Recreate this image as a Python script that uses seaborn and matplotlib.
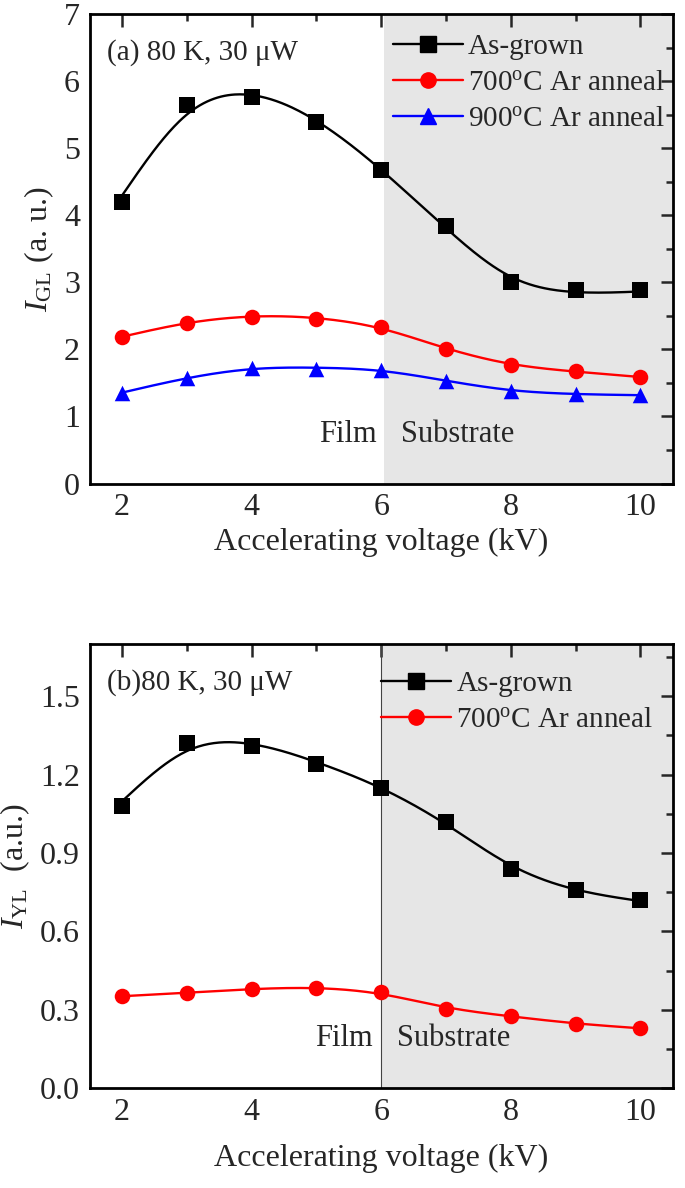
import numpy as np
import pandas as pd
import matplotlib
matplotlib.use("Agg")
import matplotlib.pyplot as plt
from matplotlib.lines import Line2D
from matplotlib.ticker import MultipleLocator
import seaborn as sns

# data
voltage = [2, 3, 4, 5, 6, 7, 8, 9, 10]

gl_as_grown = [4.20, 5.65, 5.77, 5.40, 4.68, 3.84, 3.00, 2.88, 2.88]
gl_700 = [2.18, 2.40, 2.49, 2.46, 2.34, 2.00, 1.77, 1.68, 1.59]
gl_900 = [1.35, 1.57, 1.72, 1.71, 1.70, 1.53, 1.38, 1.34, 1.32]

yl_as_grown = [1.08, 1.32, 1.31, 1.24, 1.15, 1.02, 0.84, 0.76, 0.72]
yl_700 = [0.352, 0.365, 0.378, 0.383, 0.367, 0.302, 0.278, 0.247, 0.230]

labels = ["As-grown", "700$^{\\mathrm{o}}$C Ar anneal", "900$^{\\mathrm{o}}$C Ar anneal"]
colors = ["black", "#ff0000", "#0000ff"]
markers = ["s", "o", "^"]

sns.set_style("white")
plt.rcParams["font.family"] = ["Liberation Serif", "DejaVu Serif"]
plt.rcParams["mathtext.fontset"] = "custom"
plt.rcParams["mathtext.rm"] = "Liberation Serif"
plt.rcParams["mathtext.it"] = "Liberation Serif:italic"


def smooth_spline(x, y, lam=0.08, n=300):
    # Reinsch smoothing spline: fitted knot values, then natural cubic through them
    x = np.asarray(x, float)
    y = np.asarray(y, float)
    k = len(x)
    h = np.diff(x)
    Q = np.zeros((k, k - 2))
    R = np.zeros((k - 2, k - 2))
    for j in range(1, k - 1):
        Q[j - 1, j - 1] = 1 / h[j - 1]
        Q[j, j - 1] = -1 / h[j - 1] - 1 / h[j]
        Q[j + 1, j - 1] = 1 / h[j]
        R[j - 1, j - 1] = (h[j - 1] + h[j]) / 3
        if j < k - 2:
            R[j - 1, j] = R[j, j - 1] = h[j] / 6
    K = Q @ np.linalg.solve(R, Q.T)
    g = np.linalg.solve(np.eye(k) + lam * K, y)

    A = np.zeros((k, k))
    b = np.zeros(k)
    A[0, 0] = A[-1, -1] = 1
    for i in range(1, k - 1):
        A[i, i - 1] = h[i - 1]
        A[i, i] = 2 * (h[i - 1] + h[i])
        A[i, i + 1] = h[i]
        b[i] = 3 * ((g[i + 1] - g[i]) / h[i] - (g[i] - g[i - 1]) / h[i - 1])
    c = np.linalg.solve(A, b)
    xs = np.linspace(x[0], x[-1], n)
    idx = np.clip(np.searchsorted(x, xs) - 1, 0, k - 2)
    dx = xs - x[idx]
    hi = h[idx]
    bb = (g[idx + 1] - g[idx]) / hi - hi * (2 * c[idx] + c[idx + 1]) / 3
    dd = (c[idx + 1] - c[idx]) / (3 * hi)
    ys = g[idx] + bb * dx + c[idx] * dx ** 2 + dd * dx ** 3
    return xs, ys


def draw_panel(ax, series, shade_start, ylim, ymajor, yminor, ylabel, tag, tag_y,
               film_x, sub_x, text_y, legend_x, legend_y, xlabelpad):
    ax.axvspan(shade_start, 10.5, color="#e6e6e6", zorder=0, lw=0)
    for vals, col, mk in zip(series, colors, markers):
        xs, ys = smooth_spline(voltage, vals)
        sns.lineplot(x=xs, y=ys, ax=ax, color=col, lw=1.7, zorder=2)
        sns.scatterplot(x=voltage, y=vals, ax=ax, color=col, marker=mk,
                        s=125, edgecolor=col, linewidth=0, zorder=3)
    ax.set_xlim(1.5, 10.5)
    ax.set_ylim(*ylim)
    ax.xaxis.set_major_locator(MultipleLocator(2))
    ax.xaxis.set_minor_locator(MultipleLocator(1))
    ax.yaxis.set_major_locator(MultipleLocator(ymajor))
    ax.yaxis.set_minor_locator(MultipleLocator(yminor))
    ax.tick_params(which="both", direction="in", top=True, right=True,
                   width=1.8, labelsize=23, pad=7)
    ax.tick_params(which="major", length=9)
    ax.tick_params(which="minor", length=5)
    for s in ax.spines.values():
        s.set_linewidth(2)
        s.set_color("black")
    ax.set_xlabel("Accelerating voltage (kV)", fontsize=23, labelpad=xlabelpad)
    ax.set_ylabel(ylabel, fontsize=23, labelpad=6)
    ax.text(0.03, tag_y, tag, transform=ax.transAxes, fontsize=21, va="center")
    ax.text(film_x, text_y, "Film", fontsize=22, ha="right", va="center")
    ax.text(sub_x, text_y, "Substrate", fontsize=22, ha="left", va="center")
    handles = [Line2D([], [], color=c, marker=m, markersize=11, lw=1.7)
               for c, m in zip(colors, markers)][:len(series)]
    ax.legend(handles, labels[:len(series)], loc="upper left",
              bbox_to_anchor=(legend_x, legend_y), frameon=False, fontsize=21,
              handlelength=2.4, handletextpad=0.18, labelspacing=0.33,
              borderpad=0, borderaxespad=0)


fig = plt.figure(figsize=(6.85, 11.88), dpi=100)
ax1 = fig.add_axes([0.131, 0.593, 0.851, 0.395])
ax2 = fig.add_axes([0.131, 0.084, 0.851, 0.374])

draw_panel(ax1, [gl_as_grown, gl_700, gl_900], 6.05, (0, 7), 1, 0.5,
           "$I_{\\mathrm{GL}}$ (a. u.)", "(a) 80 K, 30 μW", 0.918,
           5.93, 6.3, 0.73, 0.52, 0.958, 4)
draw_panel(ax2, [yl_as_grown, yl_700], 6.0, (0, 1.7), 0.3, 0.15,
           "$I_{\\mathrm{YL}}$  (a.u.)", "(b)80 K, 30 μW", 0.912,
           5.87, 6.25, 0.19, 0.5, 0.94, 12)
ax2.axvline(6.0, color="#444444", lw=0.8, zorder=1)

fig.savefig("out.png", dpi=100)
